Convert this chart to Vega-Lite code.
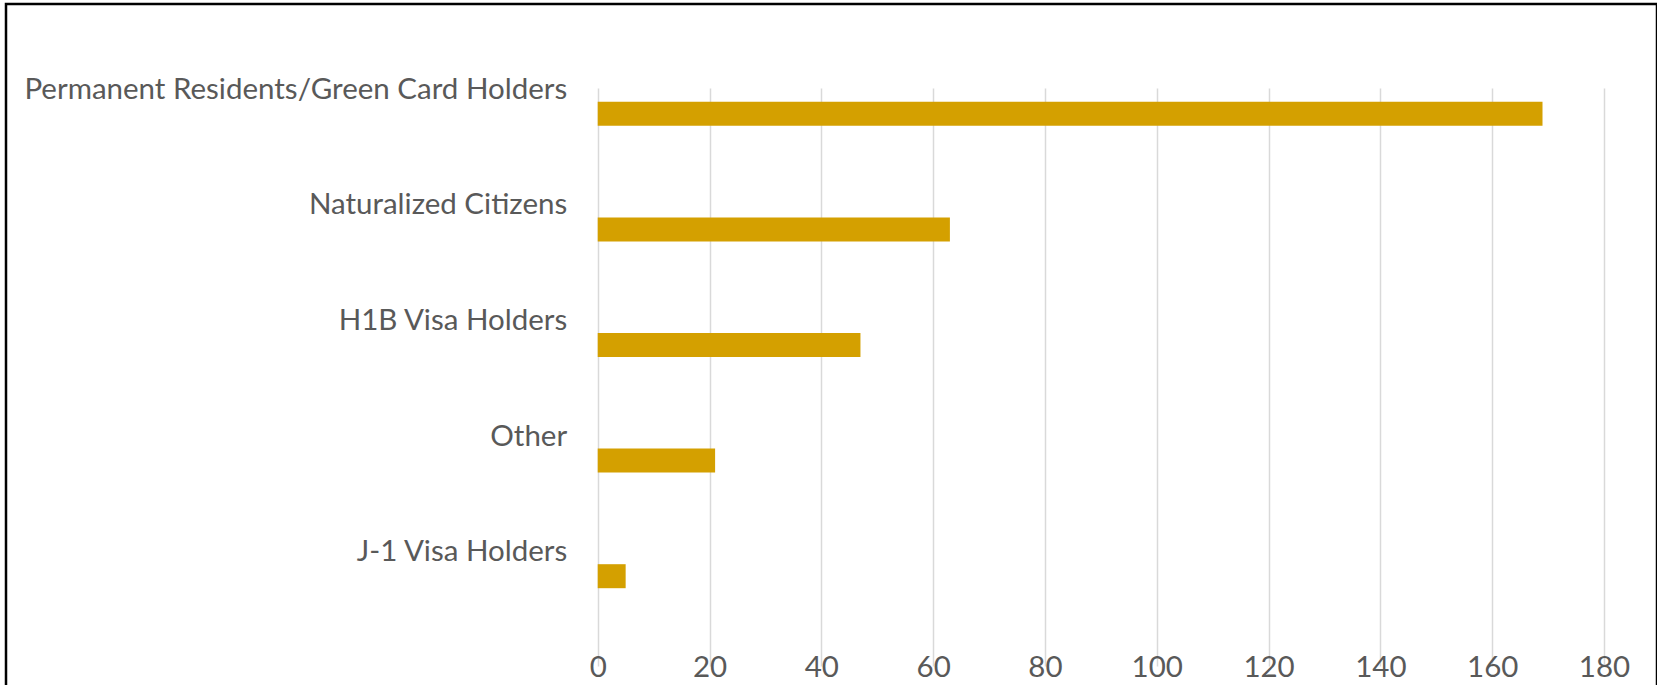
{
  "$schema": "https://vega.github.io/schema/vega-lite/v6.json",
  "autosize": "none",
  "padding": {"left": 6, "top": 4, "right": 0, "bottom": 0},
  "width": 1651,
  "height": 690,
  "background": "white",
  "config": {"view": {"stroke": "#000000", "strokeWidth": 2.5}, "font": "Lato"},
  "data": {"values": [
    {"category": "Permanent Residents/Green Card Holders", "count": 169},
    {"category": "Naturalized Citizens", "count": 63},
    {"category": "H1B Visa Holders", "count": 47},
    {"category": "Other", "count": 21},
    {"category": "J-1 Visa Holders", "count": 5}
  ]},
  "mark": {"type": "bar", "color": "#D4A000", "height": 24, "yOffset": 24},
  "encoding": {
    "y": {
      "field": "category", "type": "nominal", "sort": null,
      "scale": {"range": [28, 606], "paddingInner": 0, "paddingOuter": 0},
      "axis": {"title": null, "domain": false, "ticks": false, "tickSize": 0, "labelPadding": 0, "offset": -560.7, "labelFontSize": 29.5, "labelColor": "#595959", "labelFont": "Lato", "grid": false, "labelLimit": 0, "labelBaseline": "middle"}
    },
    "x": {
      "field": "count", "type": "quantitative",
      "scale": {"domain": [0, 180], "range": [591.7, 1598], "nice": false, "zero": true},
      "axis": {"title": null, "domain": false, "ticks": false, "tickSize": 0, "labelPadding": 0, "offset": -41, "values": [0, 20, 40, 60, 80, 100, 120, 140, 160, 180], "grid": true, "gridColor": "#D9D9D9", "gridWidth": 1.5, "labelFontSize": 29.5, "labelColor": "#595959", "labelFont": "Lato", "labelFlush": false, "labelOverlap": false, "labelBound": false}
    }
  }
}
